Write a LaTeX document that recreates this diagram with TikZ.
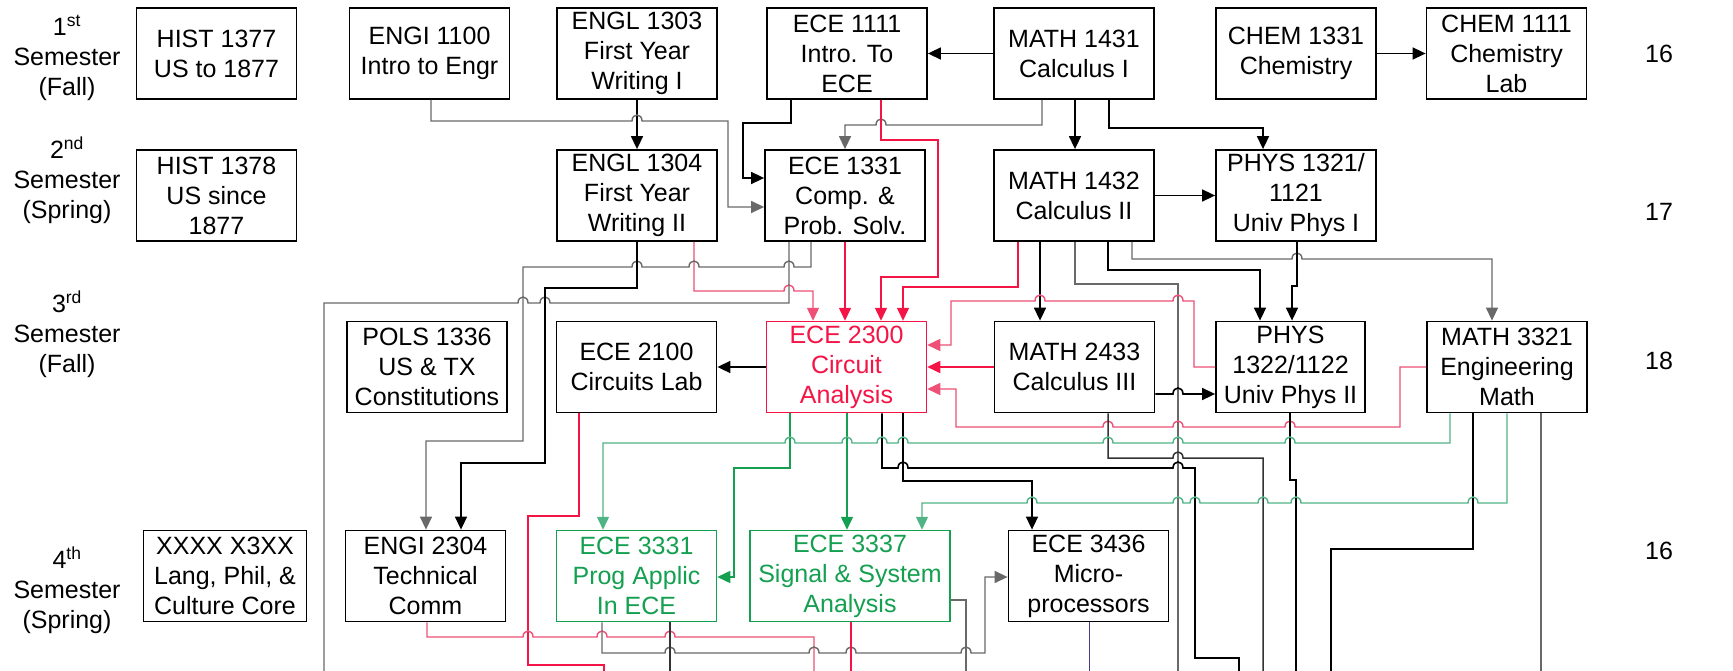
\documentclass[tikz,border=0pt]{standalone}
\usepackage{fontspec}
\setmainfont{Liberation Sans}
\usetikzlibrary{arrows.meta}
\definecolor{ecered}{RGB}{245,20,70}
\definecolor{pinkl}{RGB}{238,80,118}
\definecolor{ecegreen}{RGB}{20,160,80}
\definecolor{greenl}{RGB}{80,180,135}
\definecolor{grayl}{RGB}{105,105,105}
\definecolor{purpl}{RGB}{70,60,140}
\newcommand\jmpR[2]{-- ({#1-5},#2) .. controls ({#1-5},{#2-8}) and ({#1+5},{#2-8}) .. ({#1+5},#2)}
\newcommand\jmpL[2]{-- ({#1+5},#2) .. controls ({#1+5},{#2-8}) and ({#1-5},{#2-8}) .. ({#1-5},#2)}
\begin{document}
\begin{tikzpicture}[x=1pt,y=-1pt,
  box/.style={draw,line width=1.8pt,minimum width=160pt,minimum height=91pt,inner sep=0pt,align=center,font=\fontsize{25}{30}\selectfont},
  sem/.style={align=center,font=\fontsize{25}{30}\selectfont},
  cred/.style={font=\fontsize{25}{30}\selectfont},
  arr/.style={-{Triangle[length=13pt,width=12pt]}},
  blk/.style={line width=1.6pt,black},
  blk2/.style={line width=1.5pt,black!80},
  gry/.style={line width=1.4pt,grayl},
  rl/.style={line width=1.6pt,ecered},
  pl/.style={line width=1.4pt,pinkl},
  gl/.style={line width=1.5pt,ecegreen},
  gl2/.style={line width=1.4pt,greenl}]
\useasboundingbox (0,0) rectangle (1733,671);
\fill[white] (0,0) rectangle (1733,671);

% semester labels
\node[sem] (s1) at (67,58) {1\textsuperscript{st}\\Semester\\(Fall)};
\node[sem] (s2) at (67,180) {2\textsuperscript{nd}\\Semester\\(Spring)};
\node[sem] (s3) at (67,334) {3\textsuperscript{rd}\\Semester\\(Fall)};
\node[sem] (s4) at (67,590) {4\textsuperscript{th}\\Semester\\(Spring)};

% credits
\node[cred] (c1) at (1659,54) {16};
\node[cred] (c2) at (1659,212) {17};
\node[cred] (c3) at (1659,361) {18};
\node[cred] (c4) at (1659,551) {16};

% row 1
\node[box] (hist1377) at (216.5,53.5) {HIST 1377\\US to 1877};
\node[box] (engi1100) at (429.5,53.5) {ENGI 1100\\Intro to Engr};
\node[box] (engl1303) at (637,53.5) {ENGL 1303\\First Year\\Writing I};
\node[box] (ece1111) at (847,53.5) {ECE 1111\\Intro. To\\ECE};
\node[box] (math1431) at (1074,53.5) {MATH 1431\\Calculus I};
\node[box] (chem1331) at (1296,53.5) {CHEM 1331\\Chemistry};
\node[box] (chem1111) at (1506.5,53.5) {CHEM 1111\\Chemistry\\Lab};

% row 2
\node[box] (hist1378) at (216.5,195.5) {HIST 1378\\US since\\1877};
\node[box] (engl1304) at (637,195.5) {ENGL 1304\\First Year\\Writing II};
\node[box] (ece1331) at (845,195.5) {ECE 1331\\Comp. \&\\Prob. Solv.};
\node[box] (math1432) at (1074,195.5) {MATH 1432\\Calculus II};
\node[box] (phys1321) at (1296,195.5) {PHYS 1321/\\1121\\Univ Phys I};

% row 3
\node[box] (pols1336) at (427,367) {POLS 1336\\US \& TX\\Constitutions};
\node[box] (ece2100) at (636.5,367) {ECE 2100\\Circuits Lab};
\node[box,draw=ecered,text=ecered,line width=1.5pt] (ece2300) at (846.5,367) {ECE 2300\\Circuit\\Analysis};
\node[box] (math2433) at (1074.5,367) {MATH 2433\\Calculus III};
\node[box,minimum width=149pt] (phys1322) at (1290.5,367) {PHYS\\1322/1122\\Univ Phys II};
\node[box] (math3321) at (1507,367) {MATH 3321\\Engineering\\Math};

% row 4
\node[box,minimum width=163pt] (xxxx) at (225,576) {XXXX X3XX\\Lang, Phil, \&\\Culture Core};
\node[box] (engi2304) at (425.5,576) {ENGI 2304\\Technical\\Comm};
\node[box,draw=ecegreen,text=ecegreen,line width=1.5pt] (ece3331) at (636.5,576) {ECE 3331\\Prog Applic\\In ECE};
\node[box,draw=ecegreen,text=ecegreen,line width=1.5pt,minimum width=200pt] (ece3337) at (850,576) {ECE 3337\\Signal \& System\\Analysis};
\node[box] (ece3436) at (1088.5,576) {ECE 3436\\Micro-\\processors};

% free ends at the bottom edge
\coordinate (e1) at (324,671);
\coordinate (e2) at (1178,671);
\coordinate (e3) at (1263,671);
\coordinate (e4) at (1296,671);
\coordinate (e5) at (1331,671);
\coordinate (e6) at (1541,671);
\coordinate (e7) at (1239,671);
\coordinate (e8) at (604,671);
\coordinate (e9) at (814,671);
\coordinate (e10) at (670,671);
\coordinate (e11) at (851,671);
\coordinate (e12) at (966,671);
\coordinate (e13) at (1089,671);

% row 1 connectors
\draw[blk,arr] (math1431.west) -- (ece1111.east);
\draw[blk,arr] (chem1331.east) -- (chem1111.west);
\draw[blk,arr] (engl1303.south) -- (engl1304.north);
\draw[gry,arr] (431,0 |- engi1100.south) -- (431,121) \jmpR{637}{121} -- (728,121) -- (728,207) -- (728,207 -| ece1331.west);
\draw[blk,arr] (791,0 |- ece1111.south) -- (791,123) -- (743,123) -- (743,178) -- (743,178 -| ece1331.west);
\draw[gry,arr] (1042,0 |- math1431.south) -- (1042,125) \jmpL{881}{125} -- (845,125) -- (845,0 |- ece1331.north);
\draw[rl,arr] (881,0 |- ece1111.south) -- (881,140) -- (938,140) -- (938,277) -- (881,277) -- (881,0 |- ece2300.north);
\draw[blk,arr] (1075,0 |- math1431.south) -- (1075,0 |- math1432.north);
\draw[blk,arr] (1109,0 |- math1431.south) -- (1109,128) -- (1263,128) -- (1263,0 |- phys1321.north);
\draw[blk,arr] (math1432.east) -- (phys1321.west);

% row 2 connectors
\draw[rl,arr] (845,0 |- ece1331.south) -- (845,0 |- ece2300.north);
\draw[rl,arr] (1018,0 |- math1432.south) -- (1018,287) -- (903,287) -- (903,0 |- ece2300.north);
\draw[pl,arr] (694,0 |- engl1304.south) -- (694,291) \jmpR{789}{291} -- (813,291) -- (813,0 |- ece2300.north);
\draw[gry,arr] (811,0 |- ece1331.south) -- (811,267) \jmpL{789}{267} \jmpL{694}{267} \jmpL{637}{267} -- (523,267) -- (523,441) -- (426,441) -- (426,0 |- engi2304.north);
\draw[gry] (789,0 |- ece1331.south) -- (789,303) \jmpL{545}{303} \jmpL{523}{303} -- (324,303) -- (e1);
\draw[blk,arr] (engl1304.south) -- (637,288) -- (545,288) -- (545,463) -- (461,463) -- (461,0 |- engi2304.north);
\draw[blk,arr] (1040,0 |- math1432.south) -- (1040,0 |- math2433.north);
\draw[gry] (1075,0 |- math1432.south) -- (1075,284) -- (1178,284) -- (e2);
\draw[blk,arr] (1108,0 |- math1432.south) -- (1108,270) -- (1260,270) -- (1260,0 |- phys1322.north);
\draw[gry,arr] (1132,0 |- math1432.south) -- (1132,259) \jmpR{1297}{259} -- (1492,259) -- (1492,0 |- math3321.north);
\draw[blk,arr] (1297,0 |- phys1321.south) -- (1297,286) -- (1292,286) -- (1292,0 |- phys1322.north);

% row 3 connectors
\draw[blk,arr] (ece2300.west) -- (ece2100.east);
\draw[rl,arr] (math2433.west) -- (ece2300.east);
\draw[pl,arr] (phys1322.west) -- (1194,367) -- (1194,301) \jmpL{1178}{301} \jmpL{1040}{301} -- (951,301) -- (951,345) -- (951,345 -| ece2300.east);
\draw[pl,arr] (math3321.west) -- (1400,367) -- (1400,427) \jmpL{1290}{427} \jmpL{1178}{427} \jmpL{1108}{427} -- (956,427) -- (956,389) -- (956,389 -| ece2300.east);
\draw[blk,arr] (math2433.east |- 0,394) \jmpR{1178}{394} -- (phys1322.west |- 0,394);
\draw[blk2] (1108,0 |- math2433.south) -- (1108,458) \jmpR{1178}{458} -- (1263,458) -- (e3);
\draw[blk] (1290,0 |- phys1322.south) -- (1290,480) -- (1296,480) -- (e4);
\draw[blk] (1473,0 |- math3321.south) -- (1473,549) -- (1331,549) -- (e5);
\draw[gry] (1541,0 |- math3321.south) -- (e6);
\draw[gl,arr] (790,0 |- ece2300.south) -- (790,468) -- (734,468) -- (734,577) -- (734,577 -| ece3331.east);
\draw[gl,arr] (847,0 |- ece2300.south) -- (847,0 |- ece3337.north);
\draw[blk] (882,0 |- ece2300.south) -- (882,468) \jmpR{903}{468} \jmpR{1178}{468} -- (1195,468) -- (1195,658) -- (1239,658) -- (e7);
\draw[blk,arr] (903,0 |- ece2300.south) -- (903,481) -- (1032,481) -- (1032,0 |- ece3436.north);
\draw[gl2,arr] (1450,0 |- math3321.south) -- (1450,443) \jmpL{1290}{443} \jmpL{1178}{443} \jmpL{1108}{443} \jmpL{903}{443} \jmpL{882}{443} \jmpL{847}{443} \jmpL{790}{443} -- (603,443) -- (603,0 |- ece3331.north);
\draw[gl2,arr] (1507,0 |- math3321.south) -- (1507,503) \jmpL{1473}{503} \jmpL{1296}{503} \jmpL{1263}{503} \jmpL{1195}{503} \jmpL{1178}{503} \jmpL{1032}{503} -- (922,503) -- (922,0 |- ece3337.north);
\draw[rl] (579,0 |- ece2100.south) -- (579,516) -- (528,516) -- (528,665) -- (604,665) -- (e8);

% row 4 connectors
\draw[pl] (427,0 |- engi2304.south) -- (427,637) \jmpR{528}{637} \jmpR{602}{637} \jmpR{670}{637} -- (814,637) -- (e9);
\draw[gry,arr] (602,0 |- ece3331.south) -- (602,653) \jmpR{670}{653} \jmpR{814}{653} \jmpR{851}{653} \jmpR{966}{653} -- (985,653) -- (985,577) -- (985,577 -| ece3436.west);
\draw[blk2] (670,0 |- ece3331.south) -- (e10);
\draw[rl] (851,0 |- ece3337.south) -- (e11);
\draw[gry] (ece3337.east |- 0,600) -- (966,600) -- (e12);
\draw[line width=1pt,purpl] (1089,0 |- ece3436.south) -- (e13);
\end{tikzpicture}
\end{document}
